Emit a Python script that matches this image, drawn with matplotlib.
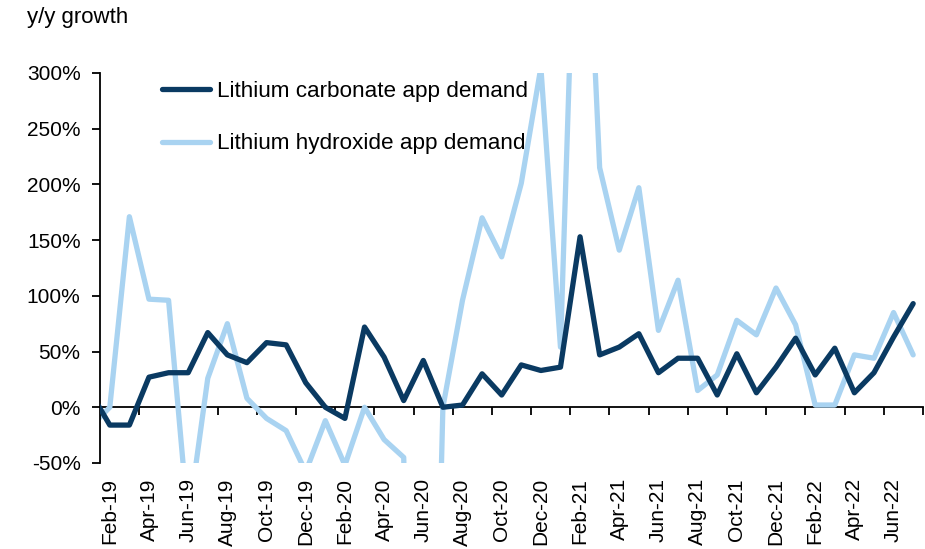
import numpy as np
import pandas as pd
import matplotlib
matplotlib.use("Agg")
from matplotlib import pyplot as plt
from matplotlib.ticker import FuncFormatter

plt.rcParams['font.family'] = ['Liberation Sans', 'DejaVu Sans']

# monthly categories, Jan-19 sits just outside the left edge of the plot
months = pd.date_range("2019-01-01", "2022-07-01", freq="MS").strftime("%b-%y").tolist()

carbonate = [14, -16, -16, 27, 31, 31, 67, 47, 40, 58, 56, 22,
             0, -10, 72, 45, 6, 42, 0, 2, 30, 11, 38, 33,
             36, 153, 47, 54, 66, 31, 44, 44, 11, 48, 13, 36,
             62, 29, 53, 13, 31, 63, 93]
hydroxide = [-18, 0, 171, 97, 96, -102, 26, 75, 8, -10, -21, -58,
             -12, -52, 0, -29, -45, -700, 0, 96, 170, 135, 201, 305,
             54, 600, 215, 141, 197, 69, 114, 15, 29, 78, 65, 107,
             74, 2, 2, 47, 44, 85, 47]

y_ticks = [-50, 0, 50, 100, 150, 200, 250, 300]

dark = '#0A3A62'
light = '#A9D3F1'

fig = plt.figure(figsize=(9.25, 5.49), dpi=100)
ax = fig.add_axes([0.1081, 0.1567, 0.8897, 0.7104])

x = np.arange(len(months)) - 1  # Feb-19 -> 0
ax.plot(x, carbonate, color=dark, lw=3.8, solid_capstyle='round',
        solid_joinstyle='round', label='Lithium carbonate app demand', zorder=3)
ax.plot(x, hydroxide, color=light, lw=3.8, solid_capstyle='round',
        solid_joinstyle='round', label='Lithium hydroxide app demand', zorder=2)

ax.set_xlim(-0.5, len(months) - 1.5)
ax.set_ylim(-50, 300)
ax.set_yticks(y_ticks)
ax.yaxis.set_major_formatter(FuncFormatter(lambda v, p: f"{v:.0f}%"))

for s in ['top', 'right', 'bottom']:
    ax.spines[s].set_visible(False)
ax.spines['left'].set_linewidth(1.3)
ax.tick_params(axis='y', direction='out', length=6, width=1.3, pad=8, labelsize=15)

# labels at the bottom, every second month
lab_pos = x[1::2]
ax.set_xticks(lab_pos)
ax.set_xticklabels(months[1::2], rotation=90)
ax.tick_params(axis='x', length=0, pad=11, labelsize=15)

# the 0% line carries the tick marks between categories
zero_loc = (0 - (-50)) / 350.0
sec = ax.secondary_xaxis(zero_loc)
sec.set_xticks(np.arange(1.5, len(months) - 1, 2))
sec.tick_params(axis='x', direction='out', length=6, width=1.3,
                labelbottom=False, labeltop=False)
sec.spines['bottom'].set_linewidth(1.3)
sec.set_zorder(1)

leg = ax.legend(loc='upper left', bbox_to_anchor=(162 / 925, 1 - 81 / 549),
                bbox_transform=fig.transFigure, frameon=False, fontsize=16.2,
                handlelength=2.13, handletextpad=0.31, labelspacing=1.4,
                borderpad=0, borderaxespad=0)

fig.text(27 / 925, 1 - 18 / 549, 'y/y growth', fontsize=16, va='center', ha='left')

plt.savefig('out.png', dpi=100)
